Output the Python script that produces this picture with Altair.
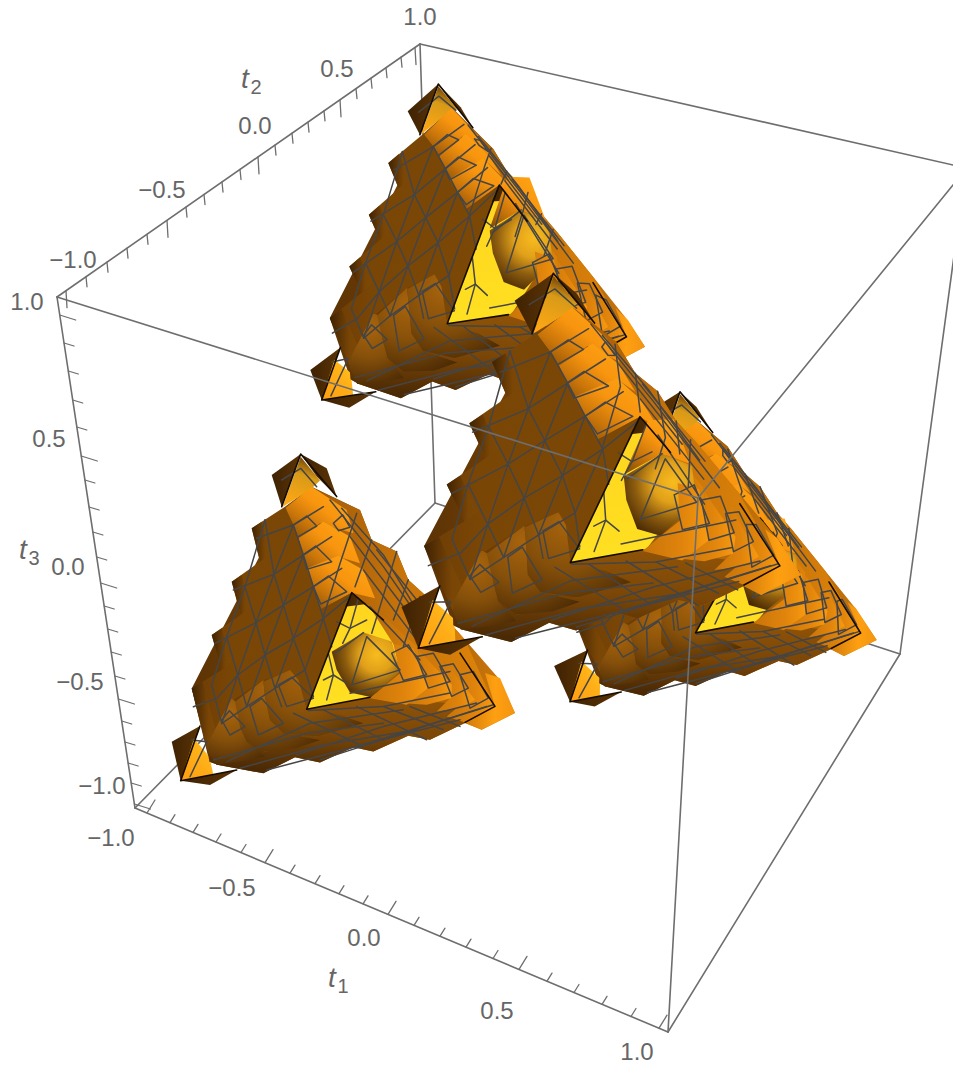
import altair as alt

BOX_BACK = [[(420,44),(435,503)],[(435,503),(135,808)],[(435,503),(900,654)]]
BOX_FRONT = [[(57,297),(420,44)],[(420,44),(975,170)],[(57,297),(698,498)],[(698,498),(975,158)],
             [(57,297),(135,808)],[(135,808),(668,1032)],[(698,498),(668,1032)],[(668,1032),(900,654)],[(900,654),(967,160)]]

T1_X = [147,170,193,216,241,265,290,315,339,363,388,414,440,466,493,519,547,574,602,631,659]
T2_X = [66,86,107,127,147,167,186,204,222,240,258,275,292,308,324,340,356,371,386,401,415]
T3_Y = [315,343,371,400,427,456,480,507,532,557,583,606,629,652,676,699,721,742,763,783,804]

LABELS = [("1.0",420,17),("0.5",337,69),("0.0",255,126),("\u22120.5",162,190),("\u22121.0",73,260),
          ("1.0",27,302),("0.5",49,439),("0.0",68,567),("\u22120.5",80,682),("\u22121.0",102,786),
          ("\u22121.0",111,838),("\u22120.5",232,888),("0.0",364,938),("0.5",497,1011),("1.0",637,1052)]
T_NAMES = [("t",245,80,"2",256,88),("t",23,551,"3",34,559),("t",332,979,"1",343,987)]

def lin(stops, x1=0.0, y1=0.0, x2=1.0, y2=0.0):
    return {"gradient":"linear","x1":x1,"y1":y1,"x2":x2,"y2":y2,
            "stops":[{"offset":o,"color":c} for o,c in stops]}
def rad(stops, cx, cy, r):
    return {"gradient":"radial","x1":cx,"y1":cy,"r1":0,"x2":cx,"y2":cy,"r2":r,
            "stops":[{"offset":o,"color":c} for o,c in stops]}

STYLES = {
 "base":  lin([(0,"#5c3305"),(.5,"#8a4f07"),(1,"#d07a0b")]),
 "slope": lin([(0,"#a05a08"),(.5,"#c8740a"),(1,"#e08509")]),
 "dark":  lin([(0,"#3e2203"),(1,"#5c3405")]),
 "sheet": lin([(0,"#4a2804"),(.07,"#703f05"),(.25,"#7a4606"),(1,"#7c4806")]),
 "step":  lin([(0,"#3f2203"),(.7,"#7a4606"),(1,"#7c4806")]),
 "cap":   lin([(0,"#7c4806"),(.3,"#c9750a"),(.55,"#f8950f"),(1,"#ffa914")],0,1,1,0),
 "blob":  rad([(0,"#a8640c"),(.5,"#86500a"),(1,"#4e2c05")],.4,.2,.85),
 "band":  lin([(0,"#8f5308"),(.5,"#7a4607"),(1,"#4a2905")],.6,0,.4,1),
 "plate": lin([(0,"#c8740a"),(.6,"#e0840c"),(1,"#f89a10")]),
 "tip":   lin([(0,"#d07a0a"),(.6,"#ffa012"),(1,"#f29410")]),
 "yellow":lin([(0,"#ffd41f"),(1,"#ffe021")],0,0,0,1),
 "pyr":   lin([(0,"#6a3c05"),(.35,"#d89a18"),(1,"#ffa814")],.6,0,.3,1),
 "pyrl":  lin([(0,"#ff9c10"),(.6,"#ffb018"),(1,"#ffc820")],0,1,1,0),
 "cube":  rad([(0,"#f8bc1e"),(.35,"#e0a01a"),(.65,"#8c5c0e"),(1,"#452704")],.66,.35,.72),
}

FACES = [
 ("base",[(485,140),(630,210),(665,300),(740,335),(775,420),(830,470),(945,600),(1045,715),(1095,820),(995,870),(945,850),(840,900),(775,888),(670,935),(610,922),(510,968),(435,952),(340,1000),(205,975),(178,965),(125,745),(405,200)]),
 ("dark",[(452,42),(365,105),(395,200)]),
 ("dark",[(452,42),(530,85),(560,170),(500,110)]),
 ("pyr",[(452,50),(510,122),(480,150),(398,200)]),
 ("tip",[(1005,700),(1050,715),(1095,820),(995,870),(945,850),(1035,800)]),
 ("slope",[(490,145),(630,210),(665,300),(740,335),(775,420),(830,470),(945,600),(1035,800),(835,745),(730,610),(605,458),(560,350)]),
 ("dark",[(150,858),(65,905),(92,1022)]),
 ("pyrl",[(132,895),(178,950),(190,1005),(92,1022)]),
 ("dark",[(92,1022),(260,990),(180,1035)]),
 ("cap",[(485,140),(590,210),(610,280),(510,250),(445,295),(430,255),(405,205)]),
 ("cap",[(520,245),(600,290),(630,370),(565,350),(490,405),(470,385),(445,295)]),
 ("cap",[(565,347),(640,390),(675,475),(605,458),(510,510),(490,440),(470,385)]),
 ("sheet",[(405,200),(305,265),(330,365),(245,425),(272,525),(185,585),(215,690),(125,745),(172,930),(250,780),(340,720),(420,690),(470,805),(605,458),(510,508),(490,440),(470,385),(445,295),(430,255)]),
 ("step",[(305,265),(330,365),(362,342),(335,245)]),
 ("step",[(245,425),(272,525),(302,503),(275,405)]),
 ("step",[(185,585),(215,690),(245,668),(215,565)]),
 ("step",[(125,745),(172,930),(200,880),(158,725)]),
 ("band",[(470,808),(660,772),(1035,800),(945,850),(840,900),(775,888),(670,935),(610,922),(510,968),(435,952),(340,1000),(205,975),(178,965),(172,930)]),
 ("blob",[(245,775),(178,900),(172,935),(200,975),(300,960),(345,950),(290,905),(270,860),(275,800)]),
 ("blob",[(340,720),(255,785),(270,860),(290,905),(345,935),(440,925),(510,900),(400,880),(360,840),(345,770)]),
 ("blob",[(420,690),(340,725),(345,770),(360,840),(400,880),(500,890),(640,850),(570,825),(470,808),(445,720)]),
 ("yellow",[(605,458),(470,808),(670,770),(760,640),(700,540)]),
 ("dark",[(605,458),(585,500),(650,492)]),
 ("slope",[(605,458),(680,510),(800,620),(835,745),(730,612),(655,495)]),
]
WINDOW_UPPER = [("cap",[(590,500),(545,630),(640,578),(720,600),(660,495)])]
CUBE = [("cube",[(545,635),(640,578),(725,605),(750,695),(665,772),(600,758),(560,690)])]
CUBE_MESH = [[(605,735),(650,590),(750,690),(605,735)],[(555,640),(640,578)]]
PLATES = [
 ("plate",[(940,665),(1035,800),(945,848),(890,830),(960,770)]),
 ("plate",[(880,660),(975,780),(930,805),(860,815),(905,770)]),
 ("plate",[(805,630),(905,735),(905,775),(830,795),(760,790),(835,745)]),
 ("plate",[(730,612),(790,625),(835,745),(770,795),(660,775),(750,700)]),
]

MESH = [
 [(430,255),(372,403),(318,548),(263,705),(215,850)],
 [(460,345),(400,495),(345,645),(290,800)],
 [(490,440),(430,595),(375,745)],
 [(520,535),(465,690)],
 [(345,240),(285,440),(230,590),(185,735)],
 [(372,403),(400,495),(430,595),(465,690),(490,770)],
 [(318,548),(345,645),(375,745),(395,800)],
 [(230,590),(263,705),(290,800)],
 [(345,240),(372,403)],
 [(285,440),(318,548)],
 [(185,735),(215,850)],
 [(430,255),(460,345),(490,440),(520,535),(545,620)],
 [(320,295),(430,255),(520,200)],
 [(250,450),(372,403),(460,345),(545,290)],
 [(195,610),(318,548),(400,495),(490,440),(575,385)],
 [(130,800),(200,775),(263,705),(345,645),(430,595),(520,535),(600,470)],
 [(215,850),(290,800),(375,745),(465,690)],
 [(190,960),(470,880),(700,850)],
 [(270,985),(520,915),(800,870)],
 [(350,990),(640,915),(930,840)],
 [(510,960),(760,880),(1030,795)],
 [(230,965),(480,850),(760,810)],
 [(440,945),(700,860),(980,790)],
 [(620,920),(850,850),(1010,800)],
 [(475,812),(700,800),(900,760)],
 [(430,820),(640,920)],
 [(520,810),(700,900)],
 [(620,800),(830,900)],
 [(700,800),(880,870)],
 [(780,800),(930,860)],
 [(215,840),(238,812),(285,860),(240,885),(215,840)],
 [(300,800),(335,775),(400,850),(325,885),(300,800)],
 [(385,735),(425,712),(490,775),(410,800),(385,735)],
 [(550,250),(578,225),(600,262),(565,272),(550,250)],
 [(458,345),(497,318),(545,365),(470,388),(458,345)],
 [(490,440),(535,408),(590,455),(512,492),(490,440)],
 [(425,258),(470,228),(500,258),(445,290)],
 [(540,180),(700,380),(860,610)],
 [(575,205),(700,345),(815,535)],
 [(620,220),(570,370),(520,530)],
 [(665,300),(615,440)],
 [(740,335),(690,500),(665,580)],
 [(775,420),(730,540)],
 [(640,390),(800,600)],
 [(600,290),(760,500)],
 [(810,470),(760,620)],
 [(680,330),(840,530)],
 [(660,500),(810,660)],
 [(725,640),(775,615),(830,705),(760,722),(725,640)],
 [(800,650),(850,640),(900,725),(835,745),(800,650)],
 [(870,680),(910,672),(955,745),(905,770),(870,680)],
 [(930,705),(970,695),(1015,775),(960,805),(930,705)],
 [(560,545),(600,565),(650,540)],
 [(625,475),(600,565),(578,610)],
 [(520,720),(550,705),(590,730)],
 [(535,640),(550,705),(530,780)],
 [(395,120),(452,85),(500,140)],
 [(125,900),(170,905),(120,1010)],
 [(600,760),(900,695)],
]

BLACK = [
 [(395,200),(452,42),(560,170)],
 [(150,858),(92,1022),(260,990)],
 [(660,772),(470,808),(605,458),(700,540)],
 [(930,640),(1035,800),(945,848)],
]

ANCHOR_Z = {"A":(452,42),"L":(92,1022),"R":(1095,820),"C":(605,458)}
PIECES = [
 {"A":(680,391.7),"L":(570,701.7),"R":(876.7,640),"C":(760,518),"cube":(12,-12),"upper":True},
 {"A":(438.3,84),"L":(321.7,400),"R":(645,346.7),"C":(499.3,185),"cube":(14,-25),"upper":True},
 {"A":(300.7,454),"L":(180.7,780.7),"R":(515,713),"C":(351.7,592.7),"cube":(0,0),"upper":False},
 {"A":(553.3,273.3),"L":(418.3,648.3),"R":(801,575),"C":(640,416.7),"cube":(16,-14),"upper":True},
]

def bary(p,a,b,c):
    d=(b[1]-c[1])*(a[0]-c[0])+(c[0]-b[0])*(a[1]-c[1])
    u=((b[1]-c[1])*(p[0]-c[0])+(c[0]-b[0])*(p[1]-c[1]))/d
    v=((c[1]-a[1])*(p[0]-c[0])+(a[0]-c[0])*(p[1]-c[1]))/d
    return u,v,1-u-v

def warp(p,piece,shift=(0,0)):
    for k1,k2 in (("A","L"),("L","R"),("R","A")):
        u,v,t=bary(p,ANCHOR_Z[k1],ANCHOR_Z[k2],ANCHOR_Z["C"])
        if u>=-1e-9 and v>=-1e-9:
            a,b,c=piece[k1],piece[k2],piece["C"]
            return (u*a[0]+v*b[0]+t*c[0]+shift[0],u*a[1]+v*b[1]+t*c[1]+shift[1])
    return piece["C"]

rows=[]; pid=[0]
def add(pts,fill=None,stroke=None,sw=0):
    pid[0]+=1
    for i,(x,y) in enumerate(pts):
        rows.append({"id":pid[0],"i":i,"x":round(x,1),"y":round(y,1),"grad":fill,"stroke":stroke,"sw":sw})

BOX="#6e6e6e"
MESHC="#454545"
for s in BOX_BACK: add(s,stroke=BOX,sw=1.6)
for piece in PIECES:
    for name,pts in FACES: add([warp(p,piece) for p in pts],fill=STYLES[name])
    if piece["upper"]:
        for name,pts in WINDOW_UPPER: add([warp(p,piece,piece["cube"]) for p in pts],fill=STYLES[name])
    for name,pts in CUBE: add([warp(p,piece,piece["cube"]) for p in pts],fill=STYLES[name])
    for name,pts in PLATES: add([warp(p,piece) for p in pts],fill=STYLES[name])
    for pts in MESH: add([warp(p,piece) for p in pts],stroke=MESHC,sw=1.5)
    for pts in CUBE_MESH: add([warp(p,piece,piece["cube"]) for p in pts],stroke=MESHC,sw=1.5)
    for pts in BLACK: add([warp(p,piece) for p in pts],stroke="#140c02",sw=1.6)
for s in BOX_FRONT: add(s,stroke=BOX,sw=1.6)
for n,x in enumerate(T1_X):
    y=808+(x-135)*224/533; major=n%5==0
    add([(x,y),(x+(8 if major else 5),y-(13 if major else 8))],stroke=BOX,sw=1.3)
for n,x in enumerate(T2_X):
    y=297-(x-57)*253/363; major=n%5==0
    add([(x,y),(x+1,y+(17 if major else 10))],stroke=BOX,sw=1.3)
for n,y in enumerate(T3_Y):
    x=57+(y-297)*78/511; major=n%5==0
    add([(x,y),(x+(16 if major else 10),y+(5 if major else 3))],stroke=BOX,sw=1.3)

xs=alt.X("x:Q",scale=alt.Scale(domain=[8,953],nice=False,zero=False),axis=None)
ys=alt.Y("y:Q",scale=alt.Scale(domain=[1065,8],nice=False,zero=False),axis=None)

shapes=alt.Chart(alt.Data(values=rows)).mark_line(strokeCap="round",strokeJoin="round").encode(
    x=xs,y=ys,detail="id:N",order="i:Q",
    fill=alt.Fill("grad:N",scale=None,legend=None),
    stroke=alt.Stroke("stroke:N",scale=None,legend=None),
    strokeWidth=alt.StrokeWidth("sw:Q",scale=None,legend=None))

GREY="#666666"
lab=alt.Chart(alt.Data(values=[{"t":t,"x":x,"y":y} for t,x,y in LABELS])).mark_text(
    font="Liberation Sans",fontSize=24,color=GREY,baseline="middle",align="center",dy=1).encode(x=xs,y=ys,text="t:N")
tt=alt.Chart(alt.Data(values=[{"t":r[0],"x":r[1],"y":r[2]} for r in T_NAMES])).mark_text(
    font="Liberation Sans",fontSize=28,fontStyle="italic",color=GREY,baseline="middle",align="center").encode(x=xs,y=ys,text="t:N")
sub=alt.Chart(alt.Data(values=[{"t":r[3],"x":r[4],"y":r[5]} for r in T_NAMES])).mark_text(
    font="Liberation Sans",fontSize=20,color=GREY,baseline="middle",align="center").encode(x=xs,y=ys,text="t:N")

chart=alt.layer(shapes,lab,tt,sub).properties(width=945,height=1057,padding=0,autosize=alt.AutoSizeParams(type="none")).configure_view(stroke=None)
chart.save("out.html",embed_options={"renderer":"svg","actions":False})
